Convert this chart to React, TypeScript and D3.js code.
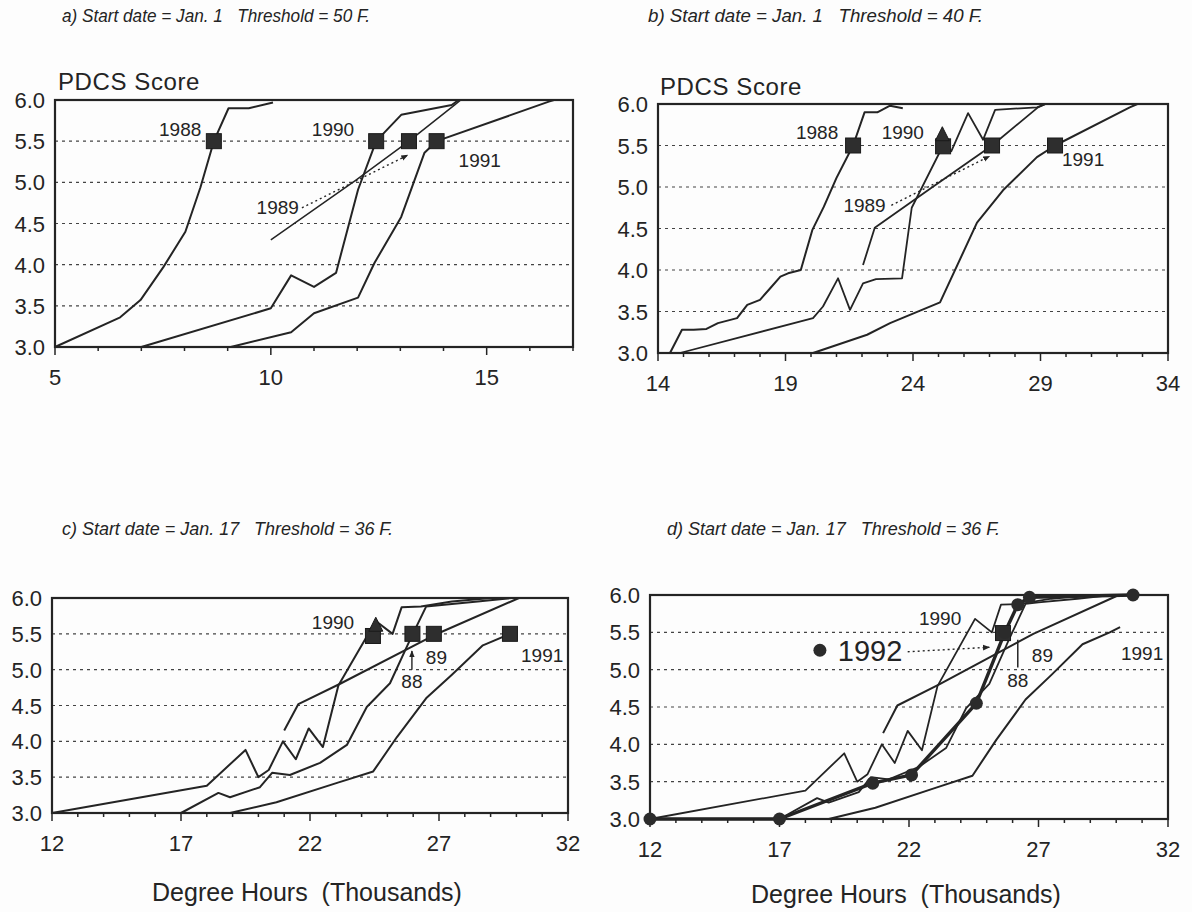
import React from 'react';
import * as d3 from 'd3';

type P = [number, number];

// ---------- axis values ----------
const yTicks = [3.0, 3.5, 4.0, 4.5, 5.0, 5.5, 6.0];
const gridValues = [3.5, 4.0, 4.5, 5.0, 5.5];
const xTicksA = [5, 10, 15];
const xTicksB = [14, 19, 24, 29, 34];
const xTicksCD = [12, 17, 22, 27, 32];

// ---------- panel a: Jan. 1, 50 F ----------
const a1988: P[] = [[5, 3.0], [6.51, 3.36], [6.98, 3.57], [7.51, 3.97], [8.02, 4.4], [8.37, 4.94], [8.68, 5.5], [9.02, 5.9], [9.49, 5.9], [10.05, 5.97]];
const a1989: P[] = [[10.0, 4.3], [11.98, 5.03], [13.2, 5.5], [14.26, 5.94], [14.4, 6.0]];
const a1990: P[] = [[7.0, 3.0], [10.0, 3.47], [10.47, 3.87], [11.0, 3.73], [11.51, 3.9], [12.02, 4.91], [12.44, 5.5], [13.02, 5.82], [14.19, 5.94], [14.35, 6.0]];
const a1991: P[] = [[9.07, 3.0], [10.47, 3.18], [11.0, 3.41], [12.02, 3.6], [12.4, 4.02], [13.02, 4.58], [13.56, 5.36], [13.84, 5.5], [16.44, 5.98], [16.56, 6.0]];

// ---------- panel b: Jan. 1, 40 F ----------
const b1988: P[] = [[14, 3.0], [14.47, 3.0], [14.94, 3.28], [15.4, 3.28], [15.9, 3.29], [16.35, 3.36], [17.1, 3.42], [17.5, 3.58], [18.0, 3.64], [18.4, 3.78], [18.8, 3.92], [19.1, 3.96], [19.6, 4.0], [20.05, 4.48], [20.5, 4.76], [21.0, 5.11], [21.65, 5.5], [22.1, 5.9], [22.6, 5.9], [23.1, 5.98], [23.6, 5.95]];
const b1989: P[] = [[22.04, 4.06], [22.5, 4.51], [24.67, 4.98], [27.1, 5.5], [28.9, 5.96], [29.2, 6.0]];
const b1990: P[] = [[14.86, 3.0], [20.08, 3.42], [20.47, 3.56], [21.06, 3.9], [21.53, 3.52], [22.04, 3.84], [22.55, 3.89], [23.57, 3.9], [23.95, 4.75], [25.18, 5.5], [25.5, 5.43], [26.16, 5.89], [26.75, 5.57], [27.22, 5.93], [28.86, 5.96], [29.2, 6.0]];
const b1991: P[] = [[20.08, 3.0], [22.2, 3.22], [23.1, 3.36], [25.06, 3.61], [26.51, 4.57], [27.53, 4.96], [28.86, 5.36], [29.57, 5.5], [32.5, 5.96], [32.8, 6.0]];

// ---------- panels c & d: Jan. 17, 36 F ----------
const c1988: P[] = [[17, 3.0], [18.45, 3.28], [18.9, 3.22], [20.06, 3.36], [20.53, 3.56], [21.22, 3.53], [22.39, 3.7], [23.43, 3.95], [24.2, 4.48], [25.1, 4.81], [25.88, 5.42], [26.5, 5.88], [27.0, 5.9], [28.5, 5.95], [29.8, 6.0]];
const c1989: P[] = [[21.0, 4.15], [21.55, 4.52], [23.15, 4.8], [26.8, 5.48], [30.1, 6.0]];
const c1990: P[] = [[12, 3.0], [18.0, 3.38], [19.5, 3.88], [20.0, 3.5], [20.4, 3.6], [20.95, 4.0], [21.45, 3.75], [21.95, 4.18], [22.5, 3.92], [23.1, 4.78], [24.55, 5.68], [25.2, 5.5], [25.55, 5.87], [26.3, 5.88], [27.5, 5.95], [29.0, 6.0]];
const c1991: P[] = [[18.9, 3.0], [20.7, 3.15], [23.05, 3.42], [24.45, 3.58], [25.37, 4.06], [26.5, 4.6], [27.5, 4.93], [28.7, 5.34], [29.75, 5.5]];
const d1991: P[] = [[18.9, 3.0], [20.7, 3.15], [23.05, 3.42], [24.45, 3.58], [25.37, 4.06], [26.5, 4.6], [27.5, 4.93], [28.7, 5.34], [29.75, 5.5], [30.15, 5.57]];
const d1992: P[] = [[12, 3.0], [17, 3.0], [20.6, 3.48], [22.1, 3.59], [24.6, 4.55], [25.7, 5.5], [26.2, 5.87], [26.65, 5.97], [30.65, 6.0]];

const FONT = "'Liberation Sans', Arial, Helvetica, sans-serif";
const INK = '#242424';

type Mark = { kind: 'square' | 'triangle' | 'circle'; x: number; y: number };
type Label = { text: string; x: number; y: number; size?: number; anchor?: string };
type Arrow = { x1: number; y1: number; x2: number; y2: number; dotted: boolean };

type Cfg = {
  xDomain: [number, number];
  xRange: [number, number];
  yRange: [number, number];
  xTicks: number[];
  series: { data: P[]; w: number }[];
  marks: Mark[];
  labels: Label[];
  arrows: Arrow[];
  segs?: { x1: number; y1: number; x2: number; y2: number }[];
  title: string;
  titleX: [number, number];
  titleY: number;
  pdcs?: [number, number];
  xlabel?: [number, number];
};

const panels: Cfg[] = [
  {
    xDomain: [5, 17], xRange: [55, 573], yRange: [347, 100], xTicks: xTicksA,
    series: [{ data: a1988, w: 2 }, { data: a1989, w: 1.5 }, { data: a1990, w: 2 }, { data: a1991, w: 2 }],
    marks: [{ kind: 'square', x: 8.68, y: 5.5 }, { kind: 'square', x: 12.44, y: 5.5 }, { kind: 'square', x: 13.2, y: 5.5 }, { kind: 'square', x: 13.84, y: 5.5 }],
    labels: [{ text: '1988', x: 7.9, y: 5.64 }, { text: '1990', x: 11.44, y: 5.64 }, { text: '1991', x: 14.84, y: 5.27 }, { text: '1989', x: 10.16, y: 4.7 }],
    arrows: [{ x1: 10.72, y1: 4.69, x2: 13.17, y2: 5.33, dotted: true }],
    title: 'a) Start date = Jan. 1   Threshold = 50 F.', titleX: [62, 370], titleY: 22,
    pdcs: [58, 90],
  },
  {
    xDomain: [14, 34], xRange: [658, 1168], yRange: [353, 104], xTicks: xTicksB,
    series: [{ data: b1988, w: 2 }, { data: b1989, w: 1.8 }, { data: b1990, w: 1.8 }, { data: b1991, w: 2 }],
    marks: [{ kind: 'square', x: 21.65, y: 5.5 }, { kind: 'square', x: 25.18, y: 5.49 }, { kind: 'triangle', x: 25.15, y: 5.63 }, { kind: 'square', x: 27.1, y: 5.5 }, { kind: 'square', x: 29.57, y: 5.5 }],
    labels: [{ text: '1988', x: 20.24, y: 5.66 }, { text: '1990', x: 23.6, y: 5.66 }, { text: '1991', x: 30.67, y: 5.33 }, { text: '1989', x: 22.1, y: 4.78 }],
    arrows: [{ x1: 23.15, y1: 4.78, x2: 27.0, y2: 5.37, dotted: true }],
    title: 'b) Start date = Jan. 1   Threshold = 40 F.', titleX: [648, 983], titleY: 22,
    pdcs: [660, 95],
  },
  {
    xDomain: [12, 32], xRange: [52, 568], yRange: [813, 598], xTicks: xTicksCD,
    series: [{ data: c1988, w: 2 }, { data: c1989, w: 2 }, { data: c1990, w: 2 }, { data: c1991, w: 2 }],
    marks: [{ kind: 'square', x: 24.44, y: 5.47 }, { kind: 'triangle', x: 24.55, y: 5.62 }, { kind: 'square', x: 25.97, y: 5.5 }, { kind: 'square', x: 26.8, y: 5.5 }, { kind: 'square', x: 29.75, y: 5.5 }],
    labels: [{ text: '1990', x: 22.89, y: 5.66 }, { text: '89', x: 26.9, y: 5.18 }, { text: '88', x: 25.95, y: 4.84 }, { text: '1991', x: 31.0, y: 5.2 }],
    arrows: [{ x1: 25.95, y1: 5.0, x2: 25.95, y2: 5.26, dotted: false }],
    title: 'c) Start date = Jan. 17   Threshold = 36 F.', titleX: [62, 393], titleY: 535,
    xlabel: [307, 901],
  },
  {
    xDomain: [12, 32], xRange: [650, 1168], yRange: [819, 595], xTicks: xTicksCD,
    series: [{ data: c1988, w: 1.8 }, { data: c1989, w: 2 }, { data: c1990, w: 1.8 }, { data: d1991, w: 2 }, { data: d1992, w: 3.4 }],
    marks: [{ kind: 'square', x: 25.63, y: 5.49 }, ...d1992.map(([x, y]) => ({ kind: 'circle' as const, x, y }))],
    labels: [{ text: '1990', x: 23.2, y: 5.69 }, { text: '89', x: 27.15, y: 5.2 }, { text: '88', x: 26.2, y: 4.86 }, { text: '1991', x: 31.0, y: 5.22 }, { text: '1992', x: 19.25, y: 5.26, size: 29, anchor: 'start' }],
    arrows: [{ x1: 21.95, y1: 5.24, x2: 25.1, y2: 5.3, dotted: true }],
    segs: [{ x1: 26.2, y1: 5.4, x2: 26.2, y2: 5.03 }],
    title: 'd) Start date = Jan. 17   Threshold = 36 F.', titleX: [667, 1000], titleY: 535,
    xlabel: [906, 903],
  },
];

function Panel({ cfg, idx }: { cfg: Cfg; idx: number }) {
  const x = d3.scaleLinear().domain(cfg.xDomain).range(cfg.xRange);
  const y = d3.scaleLinear().domain([3, 6]).range(cfg.yRange);
  const line = d3.line<P>().x((d) => x(d[0])).y((d) => y(d[1]));
  const [x0, x1] = cfg.xRange;
  const [yb, yt] = cfg.yRange;
  const minor = d3.range(cfg.xDomain[0], cfg.xDomain[1] + 0.001, 1);
  const clipId = `clip${idx}`;
  return (
    <g>
      <defs>
        <clipPath id={clipId}>
          <rect x={x0 - 8} y={yt - 8} width={x1 - x0 + 16} height={yb - yt + 16} />
        </clipPath>
      </defs>
      <text x={cfg.titleX[0]} y={cfg.titleY} textLength={cfg.titleX[1] - cfg.titleX[0]} lengthAdjust="spacingAndGlyphs"
        fontFamily={FONT} fontStyle="italic" fontSize={18.5} fill={INK} style={{ whiteSpace: 'pre' }}>{cfg.title}</text>
      {cfg.pdcs && (
        <text x={cfg.pdcs[0]} y={cfg.pdcs[1]} fontFamily={FONT} fontSize={24} letterSpacing={0.6} fill={INK}>PDCS Score</text>
      )}
      {gridValues.map((v) => (
        <line key={v} x1={x0} x2={x1} y1={y(v)} y2={y(v)} stroke="#444" strokeWidth={1.2} strokeDasharray="3 4" />
      ))}
      {yTicks.map((v) => (
        <text key={v} x={x0 - 10} y={y(v) + 8} textAnchor="end" fontFamily={FONT} fontSize={22} fill={INK}>{v.toFixed(1)}</text>
      ))}
      {minor.map((v) => (
        <line key={v} x1={x(v)} x2={x(v)} y1={yb} y2={yb + (cfg.xTicks.includes(v) ? 8 : 4)} stroke={INK} strokeWidth={1.5} />
      ))}
      {cfg.xTicks.map((v) => (
        <text key={v} x={x(v)} y={yb + 38} textAnchor="middle" fontFamily={FONT} fontSize={22} fill={INK}>{v}</text>
      ))}
      <g clipPath={`url(#${clipId})`}>
        {cfg.series.map((s, i) => (
          <path key={i} d={line(s.data) || ''} fill="none" stroke={INK} strokeWidth={s.w} strokeLinejoin="round" />
        ))}
      </g>
      <rect x={x0} y={yt} width={x1 - x0} height={yb - yt} fill="none" stroke={INK} strokeWidth={2.2} />
      {cfg.segs && cfg.segs.map((s, i) => (
        <line key={i} x1={x(s.x1)} x2={x(s.x2)} y1={y(s.y1)} y2={y(s.y2)} stroke={INK} strokeWidth={1.5} />
      ))}
      {cfg.arrows.map((a, i) => (
        <line key={i} x1={x(a.x1)} y1={y(a.y1)} x2={x(a.x2)} y2={y(a.y2)} stroke={INK} strokeWidth={1.4}
          strokeDasharray={a.dotted ? '2 3' : undefined} markerEnd="url(#arrowHead)" />
      ))}
      {cfg.marks.map((m, i) => {
        const cx = x(m.x), cy = y(m.y);
        if (m.kind === 'square') return <rect key={i} x={cx - 7.5} y={cy - 7.5} width={15} height={15} fill="#2e2e2e" stroke="#1a1a1a" strokeWidth={1} />;
        if (m.kind === 'triangle') return <path key={i} d={`M${cx},${cy - 8} L${cx + 7},${cy + 6} L${cx - 7},${cy + 6} Z`} fill="#2e2e2e" stroke="#1a1a1a" strokeWidth={1} />;
        return <circle key={i} cx={cx} cy={cy} r={6.5} fill="#2b2b2b" />;
      })}
      {cfg.labels.map((l, i) => (
        <text key={i} x={x(l.x)} y={y(l.y)} dy="0.36em" textAnchor={l.anchor || 'middle'} fontFamily={FONT} fontSize={l.size || 19} fill={INK}>{l.text}</text>
      ))}
      {idx === 3 && <circle cx={x(18.56)} cy={y(5.26)} r={6.5} fill="#2b2b2b" />}
      {cfg.xlabel && (
        <text x={cfg.xlabel[0]} y={cfg.xlabel[1]} textAnchor="middle" fontFamily={FONT} fontSize={25} fill={INK} style={{ whiteSpace: 'pre' }}>Degree Hours  (Thousands)</text>
      )}
    </g>
  );
}

export default function App() {
  return (
    <svg width={1192} height={912} viewBox="0 0 1192 912" style={{ position: 'absolute', left: 0, top: 0, background: '#fdfdfd' }}>
      <defs>
        <marker id="arrowHead" viewBox="0 0 10 10" refX={9} refY={5} markerWidth={7} markerHeight={7} orient="auto" markerUnits="userSpaceOnUse">
          <path d="M0,1 L10,5 L0,9 Z" fill={INK} />
        </marker>
      </defs>
      <rect x={0} y={0} width={1192} height={912} fill="#fdfdfd" />
      {panels.map((p, i) => (
        <Panel key={i} cfg={p} idx={i} />
      ))}
    </svg>
  );
}
